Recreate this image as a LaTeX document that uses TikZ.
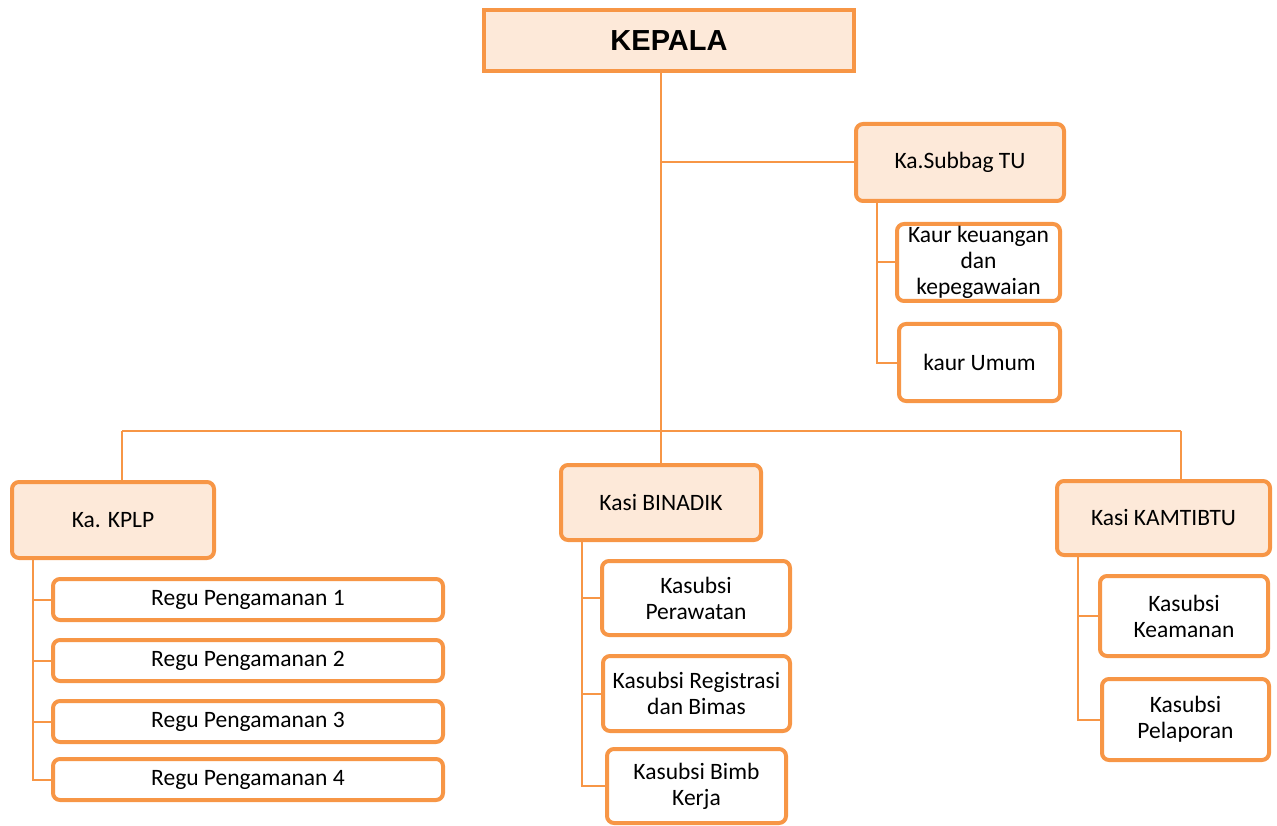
\documentclass[tikz,border=0pt]{standalone}
\usepackage{fontspec}
\setmainfont{Carlito}
\newfontfamily\headfont{Liberation Sans}
\definecolor{orgline}{HTML}{F79646}
\definecolor{orgfill}{HTML}{FDE9D9}
\begin{document}
\begin{tikzpicture}[x=1pt,y=-1pt,
  box/.style={draw=orgline, line width=4pt, fill=white, rounded corners=7pt, inner sep=0pt, align=center,
    font=\fontsize{23.5}{26}\selectfont, text=black},
  headbox/.style={box, fill=orgfill},
  conn/.style={draw=orgline, line width=2pt}]
\useasboundingbox (0,0) rectangle (1277,826);
% nodes
\node[headbox, rounded corners=0pt, minimum width=370, minimum height=61, font=\headfont\bfseries\fontsize{29}{32}\selectfont] (kepala) at (669,40.5) {KEPALA};
\node[headbox, minimum width=208, minimum height=77] (subbag) at (960,162.5) {Ka.Subbag TU};
\node[box, minimum width=163, minimum height=77] (kaur1) at (978.5,262.5) {Kaur keuangan\\dan\\kepegawaian};
\node[box, minimum width=161, minimum height=77] (kaur2) at (979.5,362.5) {kaur Umum};
\node[headbox, minimum width=202, minimum height=76] (kplp) at (113,520) {Ka. KPLP};
\node[box, minimum width=390, minimum height=41] (regu1) at (248,599.5) {Regu Pengamanan 1};
\node[box, minimum width=390, minimum height=41] (regu2) at (248,660.5) {Regu Pengamanan 2};
\node[box, minimum width=390, minimum height=41] (regu3) at (248,721.5) {Regu Pengamanan 3};
\node[box, minimum width=390, minimum height=41] (regu4) at (248,779.5) {Regu Pengamanan 4};
\node[headbox, minimum width=200, minimum height=75] (binadik) at (661,502.5) {Kasi BINADIK};
\node[box, minimum width=188, minimum height=74] (rawat) at (696,598) {Kasubsi\\Perawatan};
\node[box, minimum width=187, minimum height=75] (regis) at (696.5,693.5) {Kasubsi Registrasi\\dan Bimas};
\node[box, minimum width=179, minimum height=74] (bimb) at (696.5,786) {Kasubsi Bimb\\Kerja};
\node[headbox, minimum width=213, minimum height=74] (kamtib) at (1163.5,518) {Kasi KAMTIBTU};
\node[box, minimum width=168, minimum height=80] (keam) at (1184,616) {Kasubsi\\Keamanan};
\node[box, minimum width=167, minimum height=81] (lapor) at (1185.5,719.5) {Kasubsi\\Pelaporan};
% coordinates
\coordinate (trunk) at (661,431);
\coordinate (busL) at (122,431);
\coordinate (busR) at (1181,431);
\coordinate (xs) at (877,0);
\coordinate (xk) at (33,0);
\coordinate (xb) at (582,0);
\coordinate (xt) at (1078,0);
% connectors
\begin{scope}[on background layer/.style={}]
\draw[conn] (kepala.south -| trunk) -- (trunk);
\draw[conn] (subbag.west) -- (subbag.west -| trunk);
\draw[conn] (busL) -- (busR);
\draw[conn] (busL) -- (kplp.north -| busL);
\draw[conn] (trunk) -- (binadik.north);
\draw[conn] (busR) -- (kamtib.north -| busR);
\draw[conn] (subbag.south -| xs) |- (kaur1.west);
\draw[conn] (subbag.south -| xs) |- (kaur2.west);
\draw[conn] (kplp.south -| xk) |- (regu1.west);
\draw[conn] (kplp.south -| xk) |- (regu2.west);
\draw[conn] (kplp.south -| xk) |- (regu3.west);
\draw[conn] (kplp.south -| xk) |- (regu4.west);
\draw[conn] (binadik.south -| xb) |- (rawat.west);
\draw[conn] (binadik.south -| xb) |- (regis.west);
\draw[conn] (binadik.south -| xb) |- (bimb.west);
\draw[conn] (kamtib.south -| xt) |- (keam.west);
\draw[conn] (kamtib.south -| xt) |- (lapor.west);
\end{scope}
\end{tikzpicture}
\end{document}
